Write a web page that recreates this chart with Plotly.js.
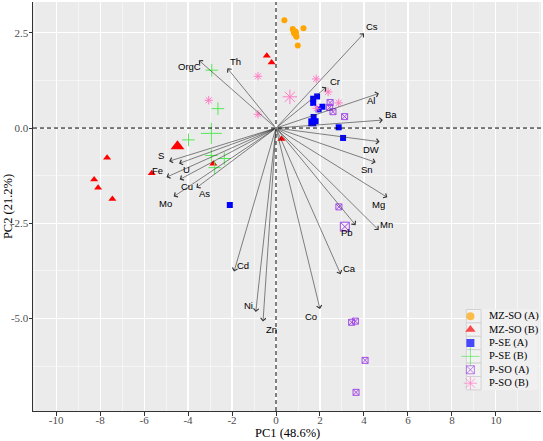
<!DOCTYPE html>
<html>
<head>
<meta charset="utf-8">
<script src="https://cdn.plot.ly/plotly-3.0.1.min.js"></script>
<style>html,body{margin:0;padding:0;background:#fff;}#chart{width:543px;height:441px;}</style>
</head>
<body>
<div id="chart"></div>
<script>
// ---- Data ----
const groupNames = ['MZ-SO (A)', 'MZ-SO (B)', 'P-SE (A)', 'P-SE (B)', 'P-SO (A)', 'P-SO (B)'];

const mzsoA_pc1 = [0.38, 0.76, 0.80, 0.85, 0.90, 0.93, 1.25, 0.99];
const mzsoA_pc2 = [2.83, 2.60, 2.55, 2.49, 2.44, 2.40, 2.62, 2.17];

const mzsoB_pc1 = [-0.42, -0.20, -7.68, -8.27, -8.09, -7.44, -5.65, -2.85, 0.25];
const mzsoB_pc2 = [1.90, 1.72, -0.78, -1.35, -1.57, -1.86, -1.19, -0.94, -0.29];

const pseA_pc1 = [1.69, 1.87, 1.69, 1.94, 2.11, 1.71, 1.80, 2.85, 3.05, -2.10];
const pseA_pc2 = [0.77, 0.83, 0.66, 0.49, 0.56, 0.29, 0.18, 0.02, -0.26, -2.02];

const pseB_pc1 = [-2.92, -2.64, -3.98, -2.94, -2.35, -2.79];
const pseB_pc2 = [1.52, 0.51, -0.31, -0.72, -0.80, -1.04];

const psoA_pc1 = [2.46, 2.44, 2.59, 3.12, 2.86, 3.44, 3.61, 4.05, 3.64];
const psoA_pc2 = [0.67, 0.54, 0.43, 0.30, -2.07, -5.10, -5.07, -6.10, -6.94];

const psoB_pc1 = [-0.82, -3.06, -0.82, 1.83, 2.37, 2.85, 1.85];
const psoB_pc2 = [1.36, 0.73, 0.36, 1.29, 0.95, 0.66, 0.52];

const centroid_pc1 = [0.86, -4.48, 1.65, -2.94, 3.13, 0.63];
const centroid_pc2 = [2.51, -0.48, 0.15, -0.14, -2.59, 0.82];

const variables = ['Cs','Cr','Al','Ba','DW','Sn','Mg','Mn','Pb','Ca','Co','Zn','Ni','Cd','Mo','As','Cu','U','Fe','S','OrgC','Th'];
const loading_pc1 = [4.00, 2.29, 4.68, 4.86, 4.71, 4.53, 5.06, 4.67, 3.62, 2.94, 2.00, -0.59, -0.92, -1.91, -4.65, -3.62, -4.38, -4.41, -4.98, -4.86, -3.51, -2.21];
const loading_pc2 = [2.49, 1.07, 0.91, 0.21, -0.36, -0.90, -1.82, -2.68, -2.55, -3.84, -4.75, -5.08, -4.83, -3.77, -1.80, -1.57, -1.35, -0.93, -1.29, -0.87, 1.78, 1.57];
const label_pc1 = [4.38, 2.70, 4.34, 5.21, 4.34, 4.15, 4.64, 5.02, 3.23, 3.32, 1.61, -0.21, -1.27, -1.50, -5.01, -3.24, -4.05, -4.07, -5.41, -5.21, -3.92, -1.83];
const label_pc2 = [2.66, 1.22, 0.73, 0.36, -0.55, -1.08, -2.02, -2.53, -2.75, -3.69, -4.95, -5.30, -4.67, -3.62, -1.98, -1.73, -1.54, -1.10, -1.12, -0.71, 1.61, 1.76];

const xTickVals = [-10, -8, -6, -4, -2, 0, 2, 4, 6, 8, 10];
const xTickText = ['-10', '-8', '-6', '-4', '-2', '0', '2', '4', '6', '8', '10'];
const yTickVals = [-5, -2.5, 0, 2.5];
const yTickText = ['-5.0', '-2.5', '0.0', '2.5'];
const xTitle = 'PC1 (48.6%)';
const yTitle = 'PC2 (21.2%)';

// ---- Styles ----
const colors = ['#FFA500', '#FF0000', '#0000FF', '#55E855', '#A24BE6', '#FF7EC4'];
const symbols = ['circle', 'triangle-up', 'square', 'cross-thin-open', 'square-x-open', 'asterisk-open'];
const pointSizes = [6, 7, 6, 9, 6, 7];
const centroidSizes = [8, 12, 8, 15, 9, 12];
const legendSizes = [8, 9, 8, 13, 8, 11];
const serif = 'Liberation Serif, Times New Roman, serif';

const groupX = [mzsoA_pc1, mzsoB_pc1, pseA_pc1, pseB_pc1, psoA_pc1, psoB_pc1];
const groupY = [mzsoA_pc2, mzsoB_pc2, pseA_pc2, pseB_pc2, psoA_pc2, psoB_pc2];

function markerFor(i, size) {
  const open = symbols[i].indexOf('open') >= 0;
  return {
    symbol: symbols[i], size: size, color: colors[i],
    line: {color: colors[i], width: open ? 1 : 0}
  };
}

const traces = [];
groupNames.forEach((name, i) => {
  traces.push({
    type: 'scatter', mode: 'markers', name: name,
    x: groupX[i], y: groupY[i],
    marker: markerFor(i, pointSizes[i]),
    showlegend: false, hoverinfo: 'skip'
  });
});
groupNames.forEach((name, i) => {
  traces.push({
    type: 'scatter', mode: 'markers', name: name + ' centroid',
    x: [centroid_pc1[i]], y: [centroid_pc2[i]],
    marker: markerFor(i, centroidSizes[i]),
    showlegend: false, hoverinfo: 'skip'
  });
});

// ---- Manual legend (positions in plot-area fractions, on overlay axes x2/y2) ----
const legKeyX = 0.861, legTop = 0.2318, legStep = 0.03276;
function box(x0, x1, y0, y1, fill, line) {
  return {
    type: 'scatter', mode: 'lines', xaxis: 'x2', yaxis: 'y2',
    x: [x0, x1, x1, x0, x0], y: [y0, y0, y1, y1, y0],
    fill: 'toself', fillcolor: fill,
    line: line ? {color: line, width: 1} : {width: 0, color: fill},
    showlegend: false, hoverinfo: 'skip'
  };
}
traces.push(box(0.852, 0.994, 0.051, 0.249, '#F0F0F0', null));
groupNames.forEach((_, i) => {
  const yc = legTop - i * legStep;
  traces.push(box(0.853, 0.882, yc - legStep / 2, yc + legStep / 2, '#F2F2F2', '#D2D2D2'));
});
traces.push({
  type: 'scatter', mode: 'markers', xaxis: 'x2', yaxis: 'y2',
  x: groupNames.map(() => legKeyX),
  y: groupNames.map((_, i) => legTop - i * legStep),
  marker: {
    symbol: symbols, size: legendSizes, color: colors,
    line: {color: colors, width: symbols.map(s => s.indexOf('open') >= 0 ? 1 : 0)}
  },
  showlegend: false, hoverinfo: 'skip'
});

const shapes = [
  {type: 'line', xref: 'x', yref: 'paper', x0: 0, x1: 0, y0: 0, y1: 1,
   line: {color: '#000', width: 1, dash: '4px,3px'}},
  {type: 'line', xref: 'paper', yref: 'y', x0: 0, x1: 1, y0: 0, y1: 0,
   line: {color: '#000', width: 1, dash: '4px,3px'}}
];

const annotations = [];
variables.forEach((v, i) => {
  annotations.push({
    x: loading_pc1[i], y: loading_pc2[i], ax: 0, ay: 0,
    xref: 'x', yref: 'y', axref: 'x', ayref: 'y',
    text: '', showarrow: true, arrowhead: 4, arrowsize: 1.7, arrowwidth: 0.6,
    arrowcolor: '#333333', standoff: 0, startstandoff: 0
  });
});
variables.forEach((v, i) => {
  annotations.push({
    x: label_pc1[i], y: label_pc2[i], xref: 'x', yref: 'y',
    text: v, showarrow: false,
    font: {family: 'Liberation Sans, Arial, sans-serif', size: 9.5, color: '#000'}
  });
});
groupNames.forEach((name, i) => {
  annotations.push({
    x: 0.8937, y: legTop - i * legStep, xref: 'paper', yref: 'paper',
    xanchor: 'left', yanchor: 'middle', text: name, showarrow: false,
    font: {family: serif, size: 10.5, color: '#000'}
  });
});
// axis titles
annotations.push({
  x: 0.5, y: -0.055, xref: 'paper', yref: 'paper', xanchor: 'center', yanchor: 'middle',
  text: xTitle, showarrow: false, font: {family: serif, size: 12.5, color: '#000'}
});
annotations.push({
  x: -0.050, y: 0.5, xref: 'paper', yref: 'paper', xanchor: 'center', yanchor: 'middle',
  text: yTitle, textangle: -90, showarrow: false, font: {family: serif, size: 12.5, color: '#000'}
});

const layout = {
  width: 543, height: 441,
  margin: {l: 33, r: 2, t: 2, b: 30},
  paper_bgcolor: '#FFFFFF',
  plot_bgcolor: '#EBEBEB',
  showlegend: false,
  font: {family: serif},
  xaxis: {
    range: [-11.05, 12.05], tickmode: 'array', tickvals: xTickVals, ticktext: xTickText,
    showgrid: true, gridcolor: '#FFFFFF', gridwidth: 1.1, zeroline: false,
    minor: {dtick: 1, tick0: 0, showgrid: true, gridcolor: '#FFFFFF', gridwidth: 0.5, ticks: ''},
    showline: true, linecolor: '#333333', linewidth: 1,
    ticks: 'outside', ticklen: 3.5, tickcolor: '#333333', tickwidth: 1,
    ticklabelstandoff: -5,
    tickfont: {family: serif, size: 11, color: '#4D4D4D'},
    fixedrange: true
  },
  yaxis: {
    range: [-7.43, 3.31], tickmode: 'array', tickvals: yTickVals, ticktext: yTickText,
    showgrid: true, gridcolor: '#FFFFFF', gridwidth: 1.1, zeroline: false,
    minor: {dtick: 1.25, tick0: 0, showgrid: true, gridcolor: '#FFFFFF', gridwidth: 0.5, ticks: ''},
    showline: true, linecolor: '#333333', linewidth: 1,
    ticks: 'outside', ticklen: 3.5, tickcolor: '#333333', tickwidth: 1,
    ticklabelstandoff: -2,
    tickfont: {family: serif, size: 11, color: '#4D4D4D'},
    fixedrange: true
  },
  xaxis2: {overlaying: 'x', range: [0, 1], visible: false, fixedrange: true},
  yaxis2: {overlaying: 'y', range: [0, 1], visible: false, fixedrange: true},
  shapes: shapes,
  annotations: annotations
};

Plotly.newPlot('chart', traces, layout, {staticPlot: true, displayModeBar: false});
</script>
</body>
</html>
